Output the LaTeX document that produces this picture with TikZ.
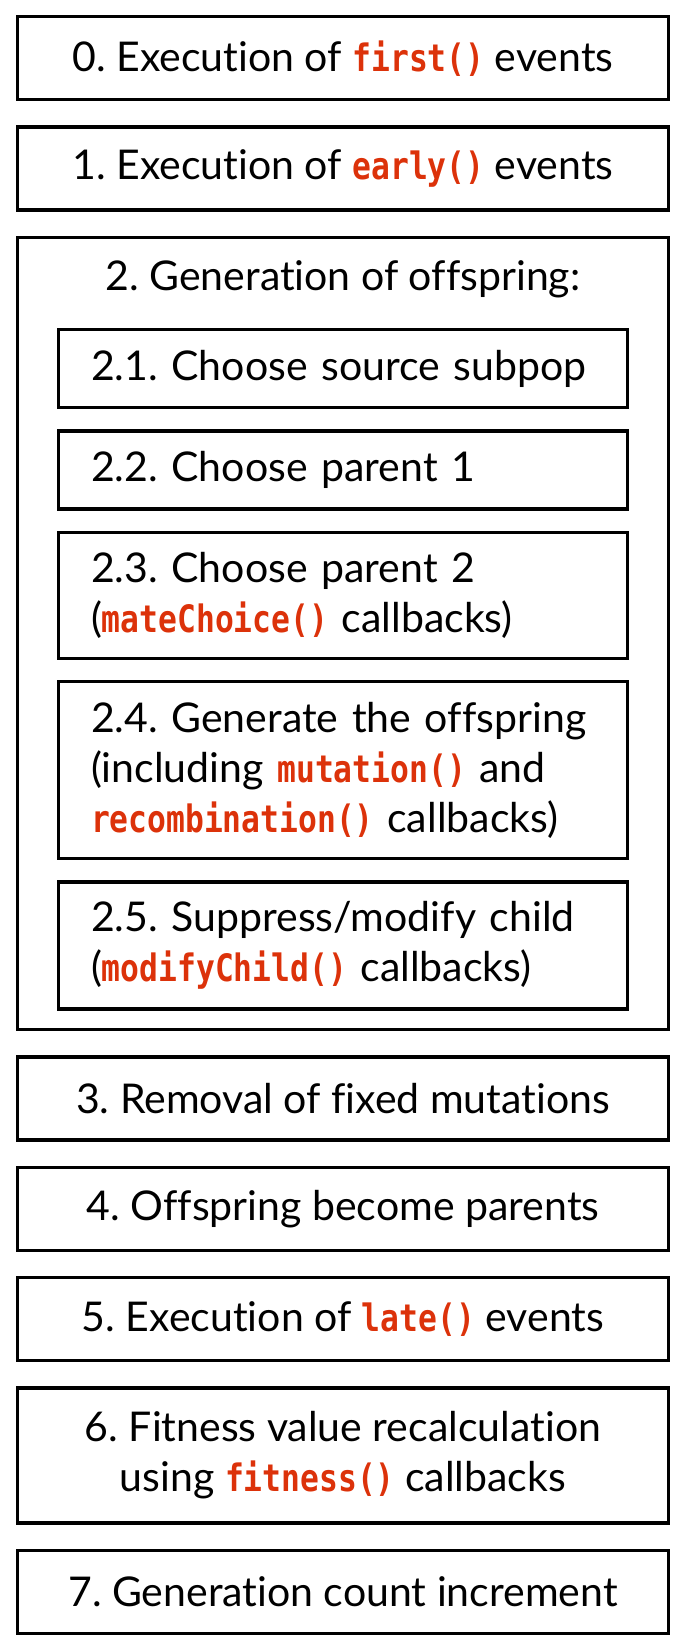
\documentclass[tikz,border=0pt]{standalone}
\usepackage{fontspec}
\setmainfont[Ligatures={NoCommon}]{Lato}
\newfontfamily\codefont[FakeStretch=0.83,Scale=0.92]{DejaVu Sans Mono}
\usepackage{xcolor}
\usetikzlibrary{positioning}

\definecolor{codered}{RGB}{220,50,10}
\newcommand{\code}[1]{{\codefont\bfseries\color{codered}#1}}
\frenchspacing

\begin{document}
\begin{tikzpicture}[
  node distance=12pt,
  font=\fontsize{20.5pt}{25pt}\selectfont,
  stage/.style={rectangle, draw, line width=1.7pt, minimum width=325.5pt, minimum height=41.5pt, align=center},
  substage/.style={rectangle, draw, line width=1.7pt, minimum width=284.5pt, minimum height=39pt, inner xsep=16.25pt, text width=252pt, align=left}
]
\useasboundingbox (0,0) rectangle (343.5pt,-825pt);

\node[stage, anchor=north] (first) at (171.5pt,-7.5pt) {0. Execution of \code{first()} events};
\node[stage, below=of first] (early) {1. Execution of \code{early()} events};
\node[stage, below=of early, minimum height=396pt] (offspring) {};
\node[anchor=base] (offspringtitle) at ([yshift=-27.5pt]offspring.north) {2. Generation of offspring:};

% steps inside the offspring box
\node[substage, anchor=north] (subpop) at ([yshift=-46pt]offspring.north) {2.1. Choose source subpop};
\node[substage, below=10pt of subpop] (parentone) {2.2. Choose parent 1};
\node[substage, below=10pt of parentone, minimum height=63pt] (parenttwo) {2.3. Choose parent 2\\(\code{mateChoice()} callbacks)};
\node[substage, below=10pt of parenttwo, minimum height=88.5pt] (generate) {2.4. Generate the offspring\\(including \code{mutation()} and\\\code{recombination()} callbacks)};
\node[substage, below=10pt of generate, minimum height=63.5pt] (modify) {2.5. Suppress/modify child\\(\code{modifyChild()} callbacks)};

\node[stage, below=of offspring] (fixed) {3. Removal of fixed mutations};
\node[stage, below=of fixed] (parents) {4. Offspring become parents};
\node[stage, below=of parents] (late) {5. Execution of \code{late()} events};
\node[stage, below=of late, minimum height=67.5pt] (fitness) {6. Fitness value recalculation\\using \code{fitness()} callbacks};
\node[stage, below=of fitness] (count) {7. Generation count increment};

\end{tikzpicture}
\end{document}
